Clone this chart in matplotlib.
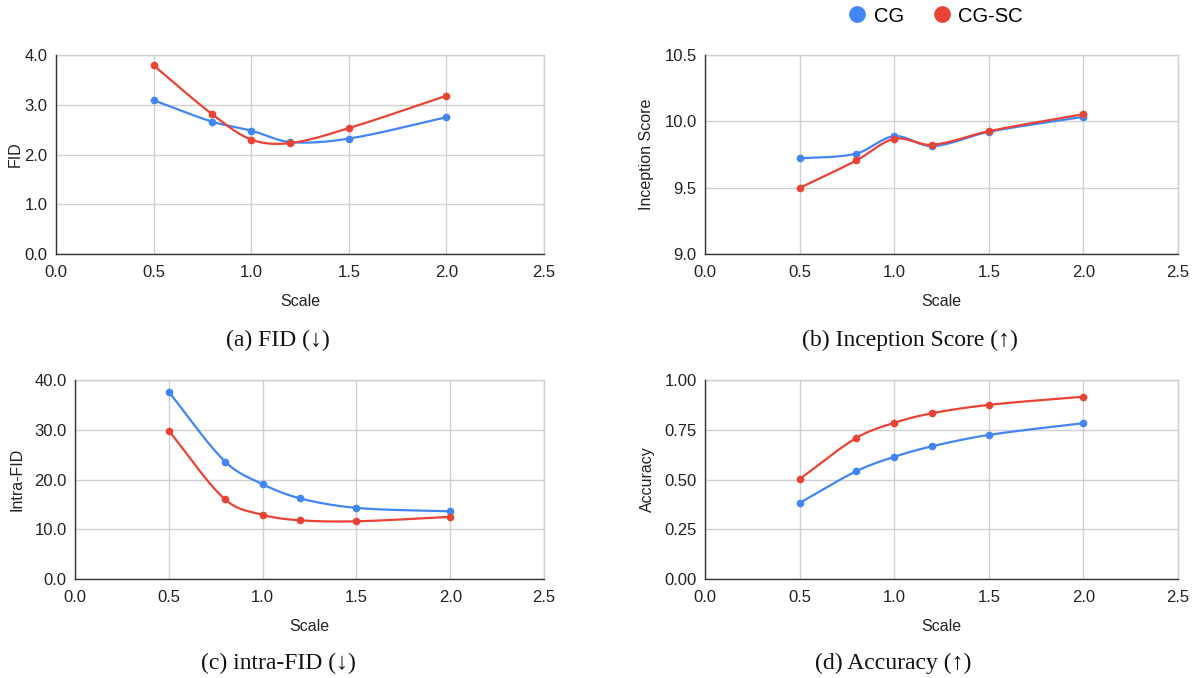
import numpy as np
import matplotlib
matplotlib.use("Agg")
import matplotlib.pyplot as plt
from matplotlib.lines import Line2D

plt.rcParams['font.family'] = ['Liberation Sans', 'DejaVu Sans']

scales = [0.5, 0.8, 1.0, 1.2, 1.5, 2.0]

fid_cg = [3.09, 2.66, 2.48, 2.25, 2.32, 2.75]
fid_cgsc = [3.79, 2.81, 2.30, 2.23, 2.53, 3.18]

is_cg = [9.72, 9.757, 9.888, 9.813, 9.921, 10.034]
is_cgsc = [9.498, 9.705, 9.868, 9.823, 9.926, 10.054]

ifid_cg = [37.6, 23.6, 19.06, 16.2, 14.3, 13.6]
ifid_cgsc = [29.8, 16.0, 12.9, 11.8, 11.6, 12.5]

acc_cg = [0.382, 0.542, 0.614, 0.667, 0.724, 0.783]
acc_cgsc = [0.502, 0.709, 0.785, 0.833, 0.875, 0.916]

series_names = ["CG", "CG-SC"]
colors = ["#4285F4", "#EA4335"]

x_ticks = [0.0, 0.5, 1.0, 1.5, 2.0, 2.5]


def smooth(x, y, n=30):
    """Catmull-Rom style cubic Hermite smoothing between data points."""
    x = np.asarray(x, float)
    y = np.asarray(y, float)
    m = np.zeros_like(y)
    for i in range(len(x)):
        if i == 0:
            m[i] = (y[1] - y[0]) / (x[1] - x[0])
        elif i == len(x) - 1:
            m[i] = (y[-1] - y[-2]) / (x[-1] - x[-2])
        else:
            m[i] = (y[i + 1] - y[i - 1]) / (x[i + 1] - x[i - 1])
    xs, ys = [], []
    for i in range(len(x) - 1):
        h = x[i + 1] - x[i]
        t = np.linspace(0, 1, n, endpoint=(i == len(x) - 2))
        h00 = 2 * t**3 - 3 * t**2 + 1
        h10 = t**3 - 2 * t**2 + t
        h01 = -2 * t**3 + 3 * t**2
        h11 = t**3 - t**2
        xs.append(x[i] + t * h)
        ys.append(h00 * y[i] + h10 * h * m[i] + h01 * y[i + 1] + h11 * h * m[i + 1])
    return np.concatenate(xs), np.concatenate(ys)


W, H = 1195, 678
fig = plt.figure(figsize=(W / 100, H / 100), dpi=100)


def ax_at(l, r, t, b):
    return fig.add_axes([l / W, 1 - b / H, (r - l) / W, (b - t) / H])


panels = [
    dict(box=(56, 544, 55, 254), data=(fid_cg, fid_cgsc), ylim=(0, 4),
         yticks=[0, 1, 2, 3, 4], fmt="{:.1f}", ylabel="FID", ylab_x=15,
         caption="(a) FID (\u2193)", cap_x=278, cap_y=340),
    dict(box=(705, 1178, 55, 254), data=(is_cg, is_cgsc), ylim=(9.0, 10.5),
         yticks=[9.0, 9.5, 10.0, 10.5], fmt="{:.1f}", ylabel="Inception Score", ylab_x=647,
         caption="(b) Inception Score (\u2191)", cap_x=910, cap_y=340),
    dict(box=(75, 544, 380, 579), data=(ifid_cg, ifid_cgsc), ylim=(0, 40),
         yticks=[0, 10, 20, 30, 40], fmt="{:.1f}", ylabel="Intra-FID", ylab_x=17,
         caption="(c) intra-FID (\u2193)", cap_x=278, cap_y=663),
    dict(box=(705, 1178, 380, 579), data=(acc_cg, acc_cgsc), ylim=(0, 1),
         yticks=[0, 0.25, 0.5, 0.75, 1.0], fmt="{:.2f}", ylabel="Accuracy", ylab_x=647,
         caption="(d) Accuracy (\u2191)", cap_x=893, cap_y=663),
]

for p in panels:
    ax = ax_at(*p["box"])
    ax.set_xlim(0, 2.5)
    ax.set_ylim(*p["ylim"])
    ax.set_xticks(x_ticks)
    ax.set_xticklabels(["{:.1f}".format(v) for v in x_ticks])
    ax.set_yticks(p["yticks"])
    ax.set_yticklabels([p["fmt"].format(v) for v in p["yticks"]])
    ax.grid(True, color="#d0d0d0", linewidth=1.0)
    ax.set_axisbelow(True)
    for s in ["top", "right"]:
        ax.spines[s].set_color("#d0d0d0")
        ax.spines[s].set_linewidth(1.0)
    for s in ["left", "bottom"]:
        ax.spines[s].set_color("#333333")
        ax.spines[s].set_linewidth(1.0)
        ax.spines[s].set_zorder(5)
    ax.tick_params(length=0, labelsize=12, colors="#222222")
    ax.tick_params(axis="x", pad=8)
    ax.tick_params(axis="y", pad=6)
    ax.set_xlabel("Scale", fontsize=11.5, color="#222222", labelpad=10)
    ax.set_ylabel(p["ylabel"], fontsize=11.5, color="#222222", va="center")
    l, r = p["box"][0], p["box"][1]
    ax.yaxis.set_label_coords((p["ylab_x"] - l) / (r - l), 0.5)
    for vals, c in zip(p["data"], colors):
        sx, sy = smooth(scales, vals)
        ax.plot(sx, sy, color=c, linewidth=1.6, zorder=3, clip_on=False)
        ax.plot(scales, vals, "o", color=c, markersize=4.5, zorder=4, clip_on=False)
    fig.text(p["cap_x"] / W, 1 - p["cap_y"] / H, p["caption"],
             family=["Liberation Serif", "DejaVu Serif"], fontsize=17,
             ha="center", va="center", color="#111111")

handles = [Line2D([], [], marker="o", linestyle="none", color=c, markersize=11)
           for c in colors]
fig.legend(handles, series_names, loc="center", bbox_to_anchor=(935 / W, 1 - 16 / H),
           ncol=2, frameon=False, fontsize=14.5, handletextpad=0.3, columnspacing=1.4,
           handlelength=1.0)

fig.savefig("out.png", dpi=100)
